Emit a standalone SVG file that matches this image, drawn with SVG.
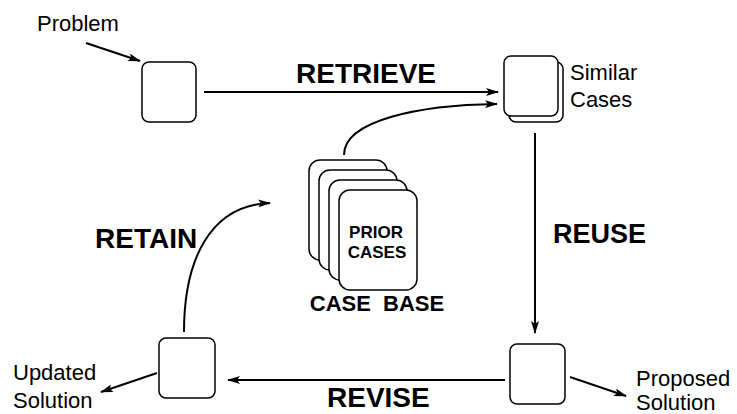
<svg xmlns="http://www.w3.org/2000/svg" width="737" height="414" viewBox="0 0 737 414">
<style>
.box{fill:#fff;stroke:#000;stroke-width:1.5}
.lbl{font-family:"Liberation Sans",Arial,sans-serif;font-size:22px;fill:#000}
.big{font-family:"Liberation Sans",Arial,sans-serif;font-size:28px;font-weight:bold;fill:#000}
.mid{font-family:"Liberation Sans",Arial,sans-serif;font-size:17px;font-weight:bold;fill:#000}
.con{fill:none;stroke:#000;stroke-width:2;marker-end:url(#ah)}
</style>
<defs>
<marker id="ah" viewBox="0 0 13 8" refX="12" refY="4" markerWidth="13" markerHeight="8" markerUnits="userSpaceOnUse" orient="auto">
<path d="M0,0 L13,4 L0,8 L3,4 z" fill="#000"/>
</marker>
</defs>
<rect width="737" height="414" fill="#fff"/>
<g id="problem">
<text class="lbl" x="37" y="31">Problem</text>
<rect class="box" x="142" y="62" width="54" height="60" rx="7"/>
</g>
<g id="similar-cases">
<rect class="box" x="509" y="62" width="54" height="60" rx="7"/>
<rect class="box" x="504" y="56" width="54" height="60" rx="7"/>
<text class="lbl" x="570" y="80">Similar</text>
<text class="lbl" x="570" y="107">Cases</text>
</g>
<g id="case-base">
<rect class="box" x="309" y="160" width="78" height="100" rx="11"/>
<rect class="box" x="319" y="170" width="78" height="100" rx="11"/>
<rect class="box" x="329" y="180" width="78" height="100" rx="11"/>
<rect class="box" x="339" y="190" width="78" height="100" rx="11"/>
<text class="mid" x="376" y="238" text-anchor="middle">PRIOR</text>
<text class="mid" x="377" y="258" text-anchor="middle">CASES</text>
<text class="big" x="377" y="311" text-anchor="middle" style="font-size:22px" xml:space="preserve">CASE  BASE</text>
</g>
<g id="proposed-solution">
<rect class="box" x="510" y="344" width="55" height="60" rx="7"/>
<text class="lbl" x="636" y="386">Proposed</text>
<text class="lbl" x="636" y="410">Solution</text>
</g>
<g id="updated-solution">
<rect class="box" x="159" y="338" width="56" height="60" rx="7"/>
<text class="lbl" x="13" y="380">Updated</text>
<text class="lbl" x="13" y="408">Solution</text>
</g>
<g id="labels">
<text class="big" x="296" y="83">RETRIEVE</text>
<text class="big" x="553" y="243" style="font-size:27px">REUSE</text>
<text class="big" x="327" y="407">REVISE</text>
<text class="big" x="95" y="248">RETAIN</text>
</g>
<g id="connectors">
<path class="con" d="M86,43 L140,61"/>
<path class="con" d="M204,92 L498,92"/>
<path class="con" d="M344,155 C344,120 420,105 497,104"/>
<path class="con" d="M535,133 L535,333"/>
<path class="con" d="M505,380 L228,380"/>
<path class="con" d="M570,377 L626,396"/>
<path class="con" d="M157,373 L101,392"/>
<path class="con" d="M184,332 C184,260 210,205 270,203"/>
</g>
</svg>
